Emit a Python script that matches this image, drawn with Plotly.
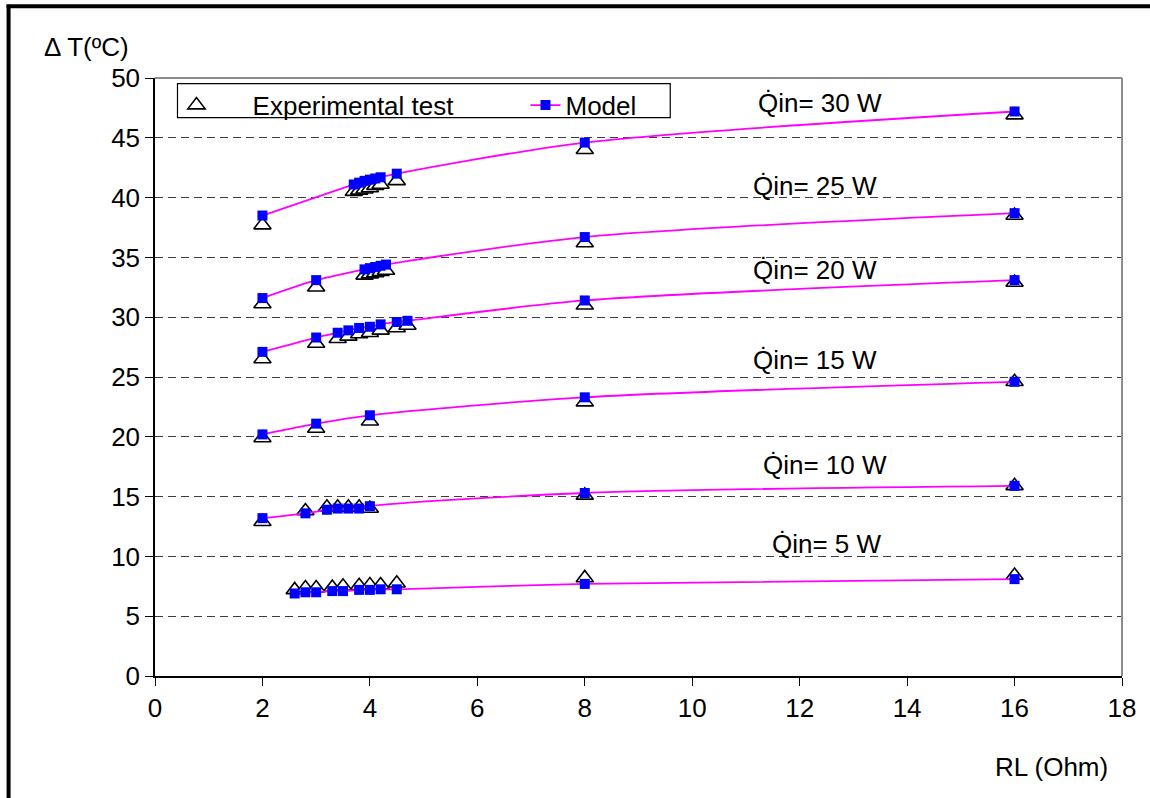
import plotly.graph_objects as go

# Load resistance RL (Ohm) and temperature difference (degC) for each heat input
power_labels = ["30 W", "25 W", "20 W", "15 W", "10 W", "5 W"]

rl_30 = [2, 3.7, 3.8, 3.9, 4.0, 4.1, 4.2, 4.5, 8, 16]
model_30 = [38.5, 41.1, 41.25, 41.4, 41.5, 41.6, 41.7, 42.0, 44.6, 47.2]
exp_30 = [37.7, 40.5, 40.6, 40.7, 40.8, 41.0, 41.1, 41.4, 44.0, 46.9]

rl_25 = [2, 3, 3.9, 4.0, 4.1, 4.2, 4.3, 8, 16]
model_25 = [31.6, 33.1, 34.0, 34.1, 34.2, 34.3, 34.4, 36.7, 38.7]
exp_25 = [31.1, 32.5, 33.5, 33.6, 33.7, 33.8, 33.9, 36.2, 38.5]

rl_20 = [2, 3, 3.4, 3.6, 3.8, 4.0, 4.2, 4.5, 4.7, 8, 16]
model_20 = [27.1, 28.3, 28.7, 28.9, 29.1, 29.2, 29.4, 29.6, 29.7, 31.4, 33.1]
exp_20 = [26.5, 27.8, 28.2, 28.4, 28.6, 28.7, 28.9, 29.1, 29.3, 31.0, 32.9]

rl_15 = [2, 3, 4, 8, 16]
model_15 = [20.2, 21.1, 21.8, 23.3, 24.6]
exp_15 = [19.9, 20.7, 21.3, 22.9, 24.6]

rl_10 = [2, 2.8, 3.2, 3.4, 3.6, 3.8, 4.0, 8, 16]
model_10 = [13.2, 13.6, 13.9, 14.0, 14.0, 14.0, 14.2, 15.3, 15.9]
exp_10 = [12.9, 13.8, 14.1, 14.1, 14.1, 14.1, 14.0, 15.1, 15.9]

rl_5 = [2.6, 2.8, 3.0, 3.3, 3.5, 3.8, 4.0, 4.2, 4.5, 8, 16]
model_5 = [6.9, 7.0, 7.0, 7.1, 7.1, 7.2, 7.2, 7.25, 7.25, 7.7, 8.1]
exp_5 = [7.2, 7.35, 7.35, 7.4, 7.5, 7.55, 7.6, 7.6, 7.75, 8.2, 8.4]

# Label positions (RL, dT) for the heat-input captions
label_x = [12.38, 12.29, 12.29, 12.29, 12.48, 12.51]
label_y = [47.93, 40.99, 33.96, 26.43, 17.65, 11.04]

series = [
    (rl_30, model_30, exp_30),
    (rl_25, model_25, exp_25),
    (rl_20, model_20, exp_20),
    (rl_15, model_15, exp_15),
    (rl_10, model_10, exp_10),
    (rl_5, model_5, exp_5),
]

FONT = "Liberation Sans, Arial, sans-serif"
FS = 26
NBSP = "\u00a0"

fig = go.Figure()

# Experimental points first so the model curves sit on top
for i, (rl, mod, exp) in enumerate(series):
    fig.add_trace(go.Scatter(
        x=rl, y=exp, mode="markers",
        name=NBSP * 5 + "Experimental test", legendgroup="exp", showlegend=(i == 0),
        marker=dict(symbol="triangle-up", size=15, color="white",
                    line=dict(color="black", width=1.6)),
    ))

for i, (rl, mod, exp) in enumerate(series):
    fig.add_trace(go.Scatter(
        x=rl, y=mod, mode="lines+markers",
        name="Model", legendgroup="model", showlegend=(i == 0),
        line=dict(color="#FF00FF", width=1.8, shape="spline", smoothing=0.8),
        marker=dict(symbol="square", size=10, color="#0000FF",
                    line=dict(width=0)),
    ))

annotations = []
for lx, ly, lab in zip(label_x, label_y, power_labels):
    annotations.append(dict(
        x=lx, y=ly, xref="x", yref="y", text="Q\u0307in= " + lab,
        showarrow=False, font=dict(family=FONT, size=FS, color="black"),
        xanchor="center", yanchor="middle",
    ))

# Axis titles
annotations.append(dict(
    x=-0.1172, y=1.0524, xref="paper", yref="paper", text="\u0394 T(\u00baC)",
    showarrow=False, xanchor="left", yanchor="middle",
    font=dict(family=FONT, size=FS, color="black"),
))
annotations.append(dict(
    x=0.9876, y=-0.1523, xref="paper", yref="paper", text="RL (Ohm)",
    showarrow=False, xanchor="right", yanchor="middle",
    font=dict(family=FONT, size=FS, color="black"),
))

shapes = [
    # grey top and right borders of the plotting area
    dict(type="line", xref="paper", yref="paper", x0=0, x1=1, y0=1, y1=1,
         line=dict(color="#8c8c8c", width=2)),
    dict(type="line", xref="paper", yref="paper", x0=1, x1=1, y0=0, y1=1,
         line=dict(color="#8c8c8c", width=2)),
    # legend frame
    dict(type="rect", xref="paper", yref="paper",
         x0=(177 - 154.5) / 967.5, x1=(670 - 154.5) / 967.5,
         y0=(676 - 118) / 597.7, y1=(676 - 84) / 597.7,
         line=dict(color="black", width=1.2), fillcolor="white", layer="below"),
    # outer black frame (left and top edges)
    dict(type="line", xref="paper", yref="paper",
         x0=(8 - 154.5) / 967.5, x1=(8 - 154.5) / 967.5,
         y0=(676 - 5) / 597.7, y1=(676 - 800) / 597.7,
         line=dict(color="black", width=4)),
    dict(type="line", xref="paper", yref="paper",
         x0=(6 - 154.5) / 967.5, x1=(1152 - 154.5) / 967.5,
         y0=(676 - 6.5) / 597.7, y1=(676 - 6.5) / 597.7,
         line=dict(color="black", width=4)),
]

fig.update_layout(
    width=1150, height=798,
    margin=dict(l=154.5, r=28, t=78, b=122, pad=0),
    paper_bgcolor="white", plot_bgcolor="white",
    font=dict(family=FONT, size=FS, color="black"),
    showlegend=True,
    legend=dict(
        orientation="h", x=(176 - 154.5) / 967.5, y=(676 - 82) / 597.7,
        xanchor="left", yanchor="top",
        bgcolor="rgba(0,0,0,0)", borderwidth=0,
        entrywidth=304, entrywidthmode="pixels",
        font=dict(family=FONT, size=FS, color="black"),
        itemsizing="trace",
    ),
    xaxis=dict(
        range=[0, 18], dtick=2, tick0=0, showgrid=False, zeroline=False,
        showline=True, linecolor="black", linewidth=1.5,
        ticks="outside", ticklen=8, tickcolor="black", tickwidth=1,
        tickfont=dict(family=FONT, size=FS, color="black"),
    ),
    yaxis=dict(
        range=[0, 50], dtick=5, tick0=0, showgrid=True, gridcolor="#3d3d3d",
        gridwidth=1, griddash="8px,5px", zeroline=False,
        showline=True, linecolor="black", linewidth=1.5,
        ticks="outside", ticklen=8, tickcolor="black", tickwidth=1,
        tickfont=dict(family=FONT, size=FS, color="black"),
    ),
    annotations=annotations,
    shapes=shapes,
)

fig.write_html("out.html")
